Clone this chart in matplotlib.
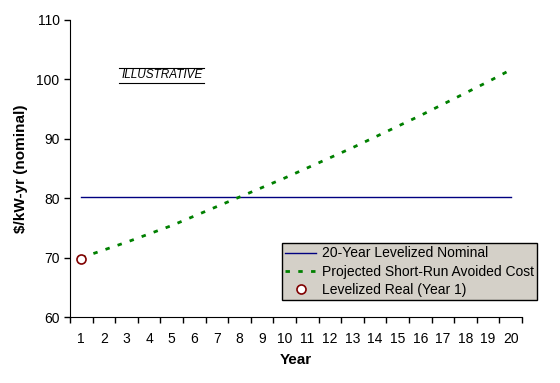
import matplotlib
matplotlib.use("Agg")
import matplotlib.pyplot as plt
from matplotlib.lines import Line2D

plt.rcParams['font.family'] = ['Liberation Sans', 'DejaVu Sans']

years = list(range(1, 21))
avoided_cost = [70.0, 71.3, 72.6, 74.0, 75.4, 77.0, 78.6, 80.2, 81.8, 83.4,
                85.1, 86.8, 88.5, 90.3, 92.1, 93.9, 95.8, 97.7, 99.6, 101.6]
levelized_nominal = [80.2] * len(years)
levelized_real = 69.8

fig = plt.figure(figsize=(5.6, 3.83), dpi=100)
ax = fig.add_axes([0.125, 0.172, 0.807, 0.776])

ax.plot(years, levelized_nominal, color='#000080', lw=1.0,
        label='20-Year Levelized Nominal')
ax.plot(years, avoided_cost, color='#008000', lw=2.0, linestyle=(0, (1.6, 3.0)),
        label='Projected Short-Run Avoided Cost')
ax.plot([1], [levelized_real], 'o', mfc='white', mec='#800000', mew=1.2, ms=6.5,
        label='Levelized Real (Year 1)')

ax.set_xlim(0.5, 20.5)
ax.set_ylim(60, 110)
ax.set_yticks(range(60, 111, 10))
ax.set_xticks([i + 0.5 for i in range(0, 21)])
ax.set_xticklabels([])
ax.set_xticks(years, minor=True)
ax.set_xticklabels([str(y) for y in years], minor=True)
ax.tick_params(axis='x', which='minor', length=0, pad=11, labelsize=10)
ax.tick_params(axis='x', which='major', length=4, width=1)
ax.tick_params(axis='y', length=4, width=1, labelsize=10)

for s in ['top', 'right']:
    ax.spines[s].set_visible(False)

ax.set_xlabel('Year', fontsize=11, fontweight='bold', labelpad=5)
ax.set_ylabel('$/kW-yr (nominal)', fontsize=11, fontweight='bold', labelpad=6)

leg = ax.legend(loc='lower right', bbox_to_anchor=(0.959, 0.216),
                bbox_transform=fig.transFigure, fontsize=10, frameon=True,
                fancybox=False, edgecolor='black', facecolor='#d4d0c8',
                framealpha=1, handlelength=2.2, borderpad=0.25, labelspacing=0.3,
                handletextpad=0.4, borderaxespad=0)
leg.get_frame().set_linewidth(1.0)

# ILLUSTRATIVE stamp
fig.text(0.2895, 0.805, 'ILLUSTRATIVE', ha='center', va='center', fontsize=8.5,
         style='italic')
fig.add_artist(Line2D([0.213, 0.365], [0.823, 0.823], color='black', lw=0.8))
fig.add_artist(Line2D([0.213, 0.365], [0.784, 0.784], color='black', lw=0.8))

fig.savefig('out.png', dpi=100)
